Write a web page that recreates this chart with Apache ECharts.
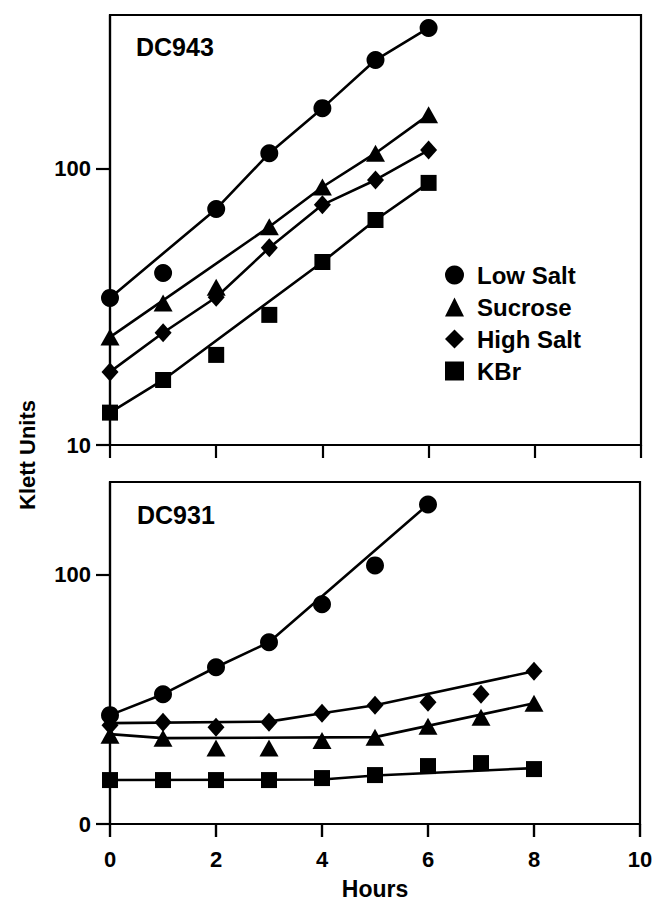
<!DOCTYPE html>
<html>
<head>
<meta charset="utf-8">
<script src="https://cdn.jsdelivr.net/npm/echarts@6/dist/echarts.min.js"></script>
<style>
html,body{margin:0;padding:0;background:#fff;}
#chart{width:652px;height:903px;}
</style>
</head>
<body>
<div id="chart"></div>
<script>
// ---- Data ----
const seriesNames = ['Low Salt', 'Sucrose', 'High Salt', 'KBr'];
const seriesSymbols = ['circle', 'triangle', 'diamond', 'rect'];
const xTicks = [0, 2, 4, 6, 8, 10];

// Top panel: DC943 (log scale)
const topHours = [0, 1, 2, 3, 4, 5, 6];
const topLowSalt = [34.1, 42.0, 71.6, 114, 166, 248, 324];
const topSucrose = [24.6, 32.7, 37.3, 61.7, 86, 114, 157];
const topHighSalt = [18.4, 25.5, 34.3, 51.8, 74.1, 91.2, 117];
const topKBr = [13.1, 17.2, 21.2, 29.6, 46.0, 65.3, 89];
// fitted lines (top)
const topLowSaltFitHours = [0, 2, 3, 4, 5, 6];
const topLowSaltFit = [34.1, 71.6, 114, 166, 248, 324];
const topSucroseFitHours = [0, 3, 4, 5, 6];
const topSucroseFit = [24.6, 61.7, 86, 114, 157];
const topHighSaltFitHours = [0, 1, 2, 3, 4, 5, 6];
const topHighSaltFit = [18.4, 25.5, 34.3, 51.8, 74.1, 91.2, 117];
const topKBrFitHours = [0, 1, 4, 5, 6];
const topKBrFit = [13.1, 17.2, 46.0, 65.3, 89];
const topYTicks = [10, 100];

// Bottom panel: DC931
const botLowSaltHours = [0, 1, 2, 3, 4, 5, 6];
const botLowSalt = [43.6, 52, 62.8, 72.8, 88, 103.6, 128];
const botHours = [0, 1, 2, 3, 4, 5, 6, 7, 8];
const botSucrose = [35.6, 34.4, 30.4, 30.4, 33.4, 34.8, 39.2, 42.8, 48.4];
const botHighSalt = [39.6, 40.8, 38.8, 40.8, 44.4, 47.6, 48.8, 52, 61.2];
const botKBr = [17.6, 17.6, 17.6, 17.6, 18.4, 19.6, 23.2, 24.4, 22];
// fitted lines (bottom)
const botLowSaltFitHours = [0, 1, 2, 3, 6];
const botLowSaltFit = [43.6, 52, 62.8, 72.8, 128];
const botSucroseFitHours = [0, 1, 5, 8];
const botSucroseFit = [36, 34.4, 34.8, 48.4];
const botHighSaltFitHours = [0, 3, 4, 5, 8];
const botHighSaltFit = [40.4, 41, 44.4, 47.6, 61.2];
const botKBrFitHours = [0, 4, 5, 8];
const botKBrFit = [17.6, 17.8, 19.4, 22.4];
const botYTicks = [0, 100];
const botYLabels = {0: '0', 100: '100'};

// ---- Chart ----
const FONT = '"Liberation Sans", Arial, sans-serif';
const zip = (xs, ys) => xs.map((x, i) => [x, ys[i]]);
const symSize = {circle: 18, triangle: [19, 17], diamond: [17, 19], rect: 16};

function scatter(name, sym, xs, ys, idx) {
  return {
    type: 'scatter', name: name, xAxisIndex: idx, yAxisIndex: idx,
    data: zip(xs, ys), symbol: sym, symbolSize: symSize[sym],
    itemStyle: {color: '#000', opacity: 1}, z: 5, silent: true
  };
}
function fit(xs, ys, idx) {
  return {
    type: 'line', name: 'fit', xAxisIndex: idx, yAxisIndex: idx,
    data: zip(xs, ys), showSymbol: false, symbol: 'none',
    lineStyle: {color: '#000', width: 2.6, opacity: 1}, z: 4, silent: true
  };
}

const chart = echarts.init(document.getElementById('chart'), null, {renderer: 'svg'});
const axisLineStyle = {color: '#000', width: 2.2};

const option = {
  backgroundColor: '#fff',
  animation: false,
  textStyle: {fontFamily: FONT},
  grid: [
    {left: 110, top: 15, width: 531, height: 430, show: true, borderColor: '#000', borderWidth: 2.2,
     backgroundColor: 'transparent', outerBoundsMode: 'none', containLabel: false},
    {left: 110, top: 482, width: 530, height: 342, show: true, borderColor: '#000', borderWidth: 2.2,
     backgroundColor: 'transparent', outerBoundsMode: 'none', containLabel: false}
  ],
  xAxis: [
    {type: 'value', gridIndex: 0, min: 0, max: 10, interval: 2,
     axisLine: {show: true, onZero: false, lineStyle: axisLineStyle},
     axisTick: {show: true, length: 13, lineStyle: axisLineStyle},
     axisLabel: {show: false}, splitLine: {show: false}},
    {type: 'value', gridIndex: 1, min: 0, max: 10, interval: 2, position: 'bottom',
     axisLine: {show: true, onZero: false, lineStyle: axisLineStyle},
     axisTick: {show: true, inside: false, length: 13, lineStyle: axisLineStyle},
     axisLabel: {show: true, fontSize: 22, fontWeight: 'bold', color: '#000', margin: 24, fontFamily: FONT},
     splitLine: {show: false}}
  ],
  yAxis: [
    {type: 'log', gridIndex: 0, logBase: 10, min: 10, max: 361,
     axisLine: {show: true, lineStyle: axisLineStyle},
     axisTick: {show: true, length: 14, lineStyle: axisLineStyle, customValues: topYTicks},
     axisLabel: {show: true, fontSize: 22, fontWeight: 'bold', color: '#000', margin: 19, fontFamily: FONT, customValues: topYTicks},
     splitLine: {show: false}},
    {type: 'value', gridIndex: 1, min: 0, max: 137,
     axisLine: {show: true, onZero: false, lineStyle: axisLineStyle},
     axisTick: {show: true, length: 14, lineStyle: axisLineStyle, customValues: botYTicks},
     axisLabel: {show: true, fontSize: 22, fontWeight: 'bold', color: '#000', margin: 19, fontFamily: FONT, customValues: botYTicks,
       formatter: v => botYLabels[v] !== undefined ? botYLabels[v] : String(v)},
     splitLine: {show: false}}
  ],
  legend: {
    orient: 'vertical', left: 440, top: 258,
    itemWidth: 19, itemHeight: 19, itemGap: 8,
    textStyle: {fontSize: 24, fontWeight: 'bold', color: '#000', fontFamily: FONT, padding: [0, 0, 0, 8]},
    data: seriesNames.map((n, i) => ({name: n, icon: seriesSymbols[i]})),
    selectedMode: false,
    itemStyle: {color: '#000', opacity: 1}
  },
  graphic: [
    {type: 'text', left: 136, top: 34, style: {text: 'DC943', font: 'bold 25px ' + FONT, fill: '#000'}},
    {type: 'text', left: 137, top: 502, style: {text: 'DC931', font: 'bold 25px ' + FONT, fill: '#000'}},
    {type: 'text', x: 27, y: 455, rotation: Math.PI / 2,
     style: {text: 'Klett Units', font: 'bold 22px ' + FONT, fill: '#000', align: 'center', verticalAlign: 'middle'}},
    {type: 'text', x: 375, y: 889,
     style: {text: 'Hours', font: 'bold 23px ' + FONT, fill: '#000', align: 'center', verticalAlign: 'middle'}}
  ],
  series: [
    fit(topLowSaltFitHours, topLowSaltFit, 0),
    fit(topSucroseFitHours, topSucroseFit, 0),
    fit(topHighSaltFitHours, topHighSaltFit, 0),
    fit(topKBrFitHours, topKBrFit, 0),
    scatter(seriesNames[0], seriesSymbols[0], topHours, topLowSalt, 0),
    scatter(seriesNames[1], seriesSymbols[1], topHours, topSucrose, 0),
    scatter(seriesNames[2], seriesSymbols[2], topHours, topHighSalt, 0),
    scatter(seriesNames[3], seriesSymbols[3], topHours, topKBr, 0),
    fit(botLowSaltFitHours, botLowSaltFit, 1),
    fit(botSucroseFitHours, botSucroseFit, 1),
    fit(botHighSaltFitHours, botHighSaltFit, 1),
    fit(botKBrFitHours, botKBrFit, 1),
    scatter(seriesNames[0], seriesSymbols[0], botLowSaltHours, botLowSalt, 1),
    scatter(seriesNames[1], seriesSymbols[1], botHours, botSucrose, 1),
    scatter(seriesNames[2], seriesSymbols[2], botHours, botHighSalt, 1),
    scatter(seriesNames[3], seriesSymbols[3], botHours, botKBr, 1)
  ]
};
chart.setOption(option);

// Tick marks under the lower panel, positioned through the lower panel's own axes
try {
  const yBase = chart.convertToPixel({yAxisIndex: 1}, 0);
  const tickLines = xTicks.map(v => {
    const x = chart.convertToPixel({xAxisIndex: 1}, v);
    return {type: 'line', silent: true, z: 100,
      shape: {x1: x, y1: yBase, x2: x, y2: yBase + 13},
      style: {stroke: '#000', lineWidth: 2.2}};
  });
  chart.setOption({graphic: option.graphic.concat(tickLines)});
} catch (e) { /* keep base chart */ }
</script>
</body>
</html>
